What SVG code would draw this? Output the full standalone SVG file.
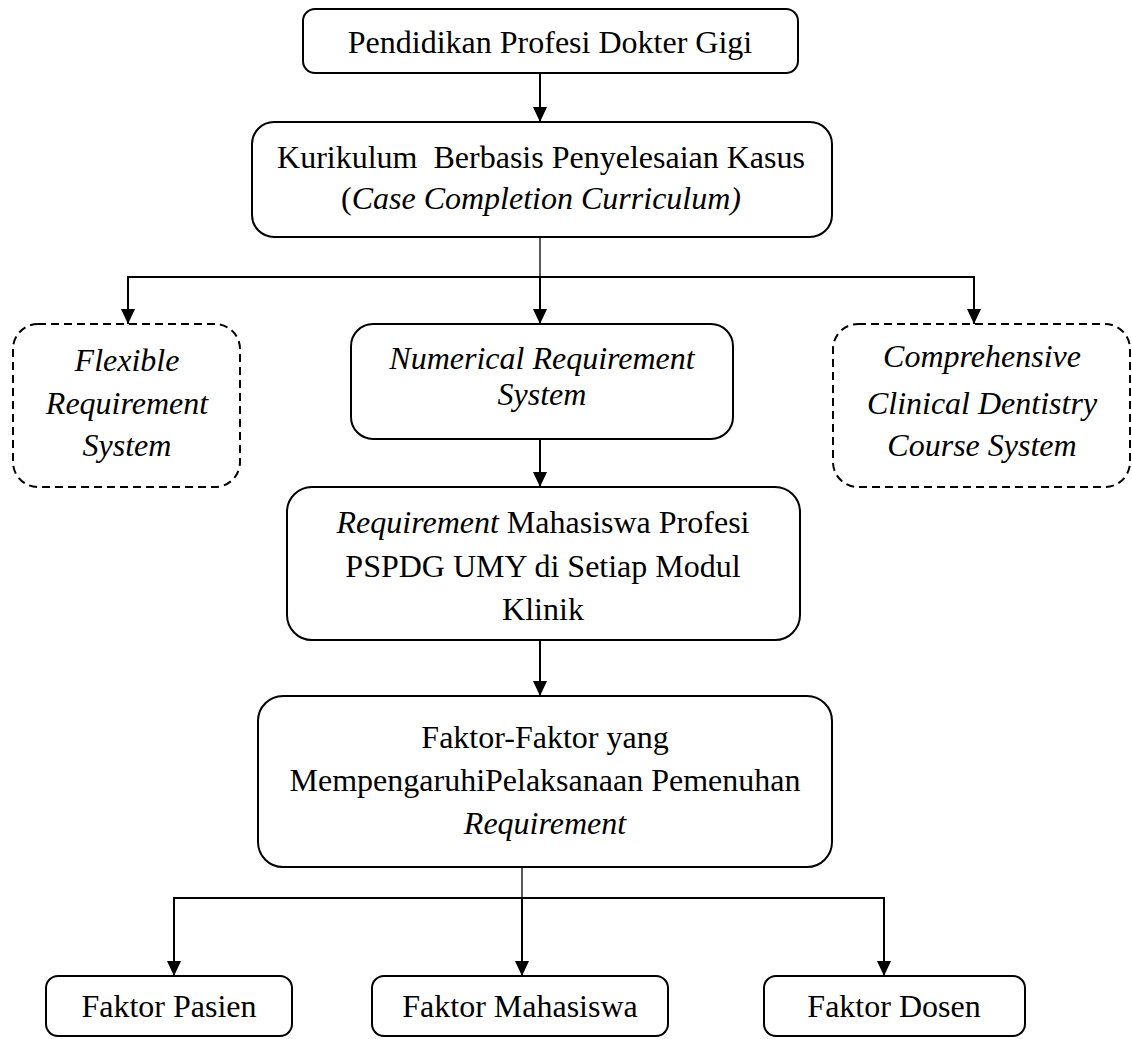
<svg xmlns="http://www.w3.org/2000/svg" width="1132" height="1039" viewBox="0 0 1132 1039">
<defs>
<marker id="ah" viewBox="0 0 15 14" refX="15" refY="7" markerWidth="15" markerHeight="14" markerUnits="userSpaceOnUse" orient="auto">
<path d="M0,0 L15,7 L0,14 Z" fill="#000"/>
</marker>
<style>
.box{fill:#fff;stroke:#000;stroke-width:2}
.dash{fill:#fff;stroke:#000;stroke-width:2;stroke-dasharray:8 5}
.t{font-family:"Liberation Serif","Times New Roman",serif;font-size:32px;fill:#000;text-anchor:middle}
.i{font-style:italic}
.ln{fill:none;stroke:#000;stroke-width:2}
.thin{fill:none;stroke:#000;stroke-width:1.3}
</style>
</defs>
<rect width="1132" height="1039" fill="#fff"/>
<g id="connectors">
<line class="ln" x1="540" y1="73" x2="540" y2="122" marker-end="url(#ah)"/>
<line class="thin" x1="540" y1="237" x2="540" y2="277"/>
<line class="ln" x1="127" y1="277" x2="975" y2="277"/>
<line class="ln" x1="128" y1="277" x2="128" y2="324" marker-end="url(#ah)"/>
<line class="ln" x1="540" y1="277" x2="540" y2="324" marker-end="url(#ah)"/>
<line class="ln" x1="974" y1="277" x2="974" y2="324" marker-end="url(#ah)"/>
<line class="ln" x1="540" y1="439" x2="540" y2="487" marker-end="url(#ah)"/>
<line class="ln" x1="540" y1="640" x2="540" y2="696" marker-end="url(#ah)"/>
<line class="thin" x1="522" y1="867" x2="522" y2="898"/>
<line class="ln" x1="173" y1="898" x2="885" y2="898"/>
<line class="ln" x1="174" y1="898" x2="174" y2="976" marker-end="url(#ah)"/>
<line class="ln" x1="522" y1="898" x2="522" y2="976" marker-end="url(#ah)"/>
<line class="ln" x1="884" y1="898" x2="884" y2="976" marker-end="url(#ah)"/>
</g>
<g id="n1">
<rect class="box" x="303" y="9" width="495" height="64" rx="12"/>
<text class="t" x="550" y="53">Pendidikan Profesi Dokter Gigi</text>
</g>
<g id="n2">
<rect class="box" x="252" y="122" width="580" height="115" rx="22"/>
<text class="t" x="541" y="168" xml:space="preserve">Kurikulum  Berbasis Penyelesaian Kasus</text>
<text class="t" x="541" y="209">(<tspan class="i">Case Completion Curriculum)</tspan></text>
</g>
<g id="n3">
<rect class="dash" x="13" y="324" width="227" height="163" rx="25"/>
<text class="t i" x="127" y="371">Flexible</text>
<text class="t i" x="127" y="414">Requirement</text>
<text class="t i" x="127" y="456">System</text>
</g>
<g id="n4">
<rect class="box" x="351" y="324" width="382" height="115" rx="22"/>
<text class="t i" x="542" y="369">Numerical Requirement</text>
<text class="t i" x="542" y="405">System</text>
</g>
<g id="n5">
<rect class="dash" x="833" y="324" width="297" height="163" rx="25"/>
<text class="t i" x="982" y="367">Comprehensive</text>
<text class="t i" x="982" y="414">Clinical Dentistry</text>
<text class="t i" x="982" y="456">Course System</text>
</g>
<g id="n6">
<rect class="box" x="287" y="487" width="513" height="153" rx="25"/>
<text class="t" x="543" y="533"><tspan class="i">Requirement</tspan> Mahasiswa Profesi</text>
<text class="t" x="543" y="577">PSPDG UMY di Setiap Modul</text>
<text class="t" x="543" y="620">Klinik</text>
</g>
<g id="n7">
<rect class="box" x="258" y="696" width="574" height="171" rx="25"/>
<text class="t" x="545" y="748">Faktor-Faktor yang</text>
<text class="t" x="545" y="791">MempengaruhiPelaksanaan Pemenuhan</text>
<text class="t i" x="545" y="834">Requirement</text>
</g>
<g id="n8">
<rect class="box" x="46" y="976" width="246" height="60" rx="12"/>
<text class="t" x="169" y="1017">Faktor Pasien</text>
</g>
<g id="n9">
<rect class="box" x="372" y="976" width="296" height="60" rx="12"/>
<text class="t" x="520" y="1017">Faktor Mahasiswa</text>
</g>
<g id="n10">
<rect class="box" x="764" y="976" width="261" height="60" rx="12"/>
<text class="t" x="894" y="1017">Faktor Dosen</text>
</g>
</svg>
